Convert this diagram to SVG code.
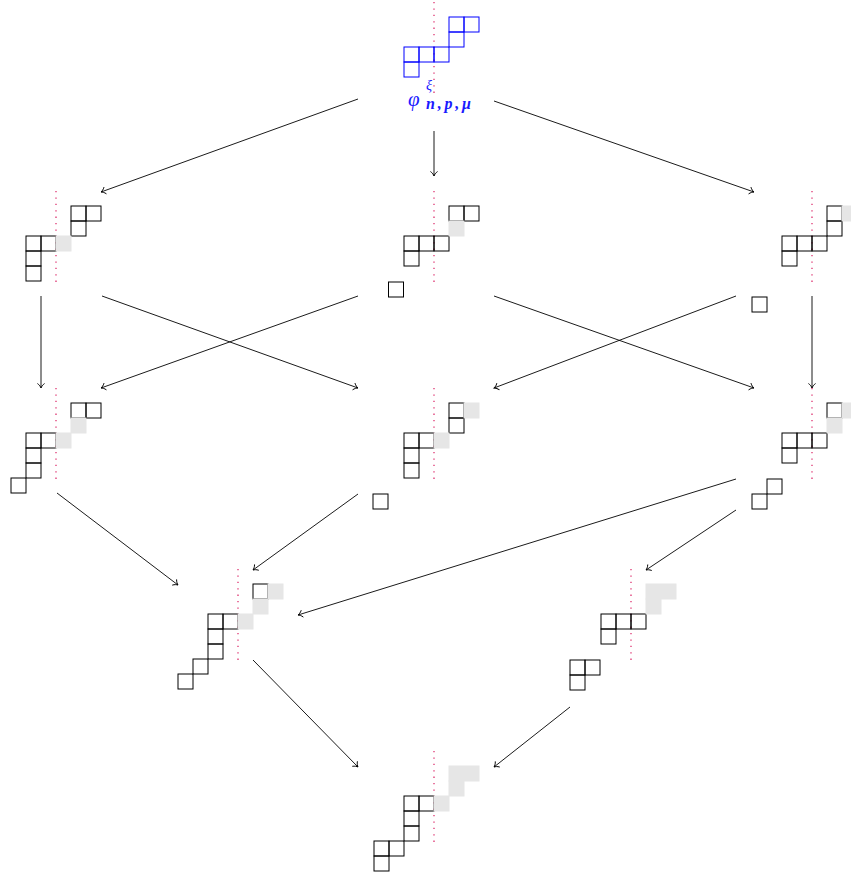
<svg xmlns="http://www.w3.org/2000/svg" width="851" height="872" viewBox="0 0 851 872">
<defs>
<style>
.c{fill:none;stroke:#000;stroke-width:1}
.b{fill:none;stroke:#0000ff;stroke-width:1}
.g{fill:#e6e6e6;stroke:none}
.d{stroke:#e0407a;stroke-width:1.4;stroke-dasharray:1.3 5.1;fill:none}
.a{stroke:#000;stroke-width:0.9;fill:none;marker-end:url(#h)}
.lab{font-family:"Liberation Serif",serif;font-style:italic;fill:#1a1aff}
</style>
<marker id="h" markerUnits="userSpaceOnUse" markerWidth="12" markerHeight="12" viewBox="-6 -6 12 12" refX="0" refY="0" orient="auto">
<path d="M-4.5,-3.6 C-3.1,-1.5 -1.1,-0.4 0,0 C-1.1,0.4 -3.1,1.5 -4.5,3.6" fill="none" stroke="#000" stroke-width="0.9"/>
</marker>
</defs>

<g id="top">
<line class="d" x1="434" y1="2" x2="434" y2="94"/>
<rect class="b" x="449" y="17" width="15" height="15"/>
<rect class="b" x="464" y="17" width="15" height="15"/>
<rect class="b" x="449" y="32" width="15" height="15"/>
<rect class="b" x="404" y="47" width="15" height="15"/>
<rect class="b" x="419" y="47" width="15" height="15"/>
<rect class="b" x="434" y="47" width="15" height="15"/>
<rect class="b" x="404" y="62" width="15" height="15"/>
<text class="lab" x="408" y="106" font-size="21">φ</text>
<text class="lab" x="426" y="90" font-size="14">ξ</text>
<text class="lab" x="426" y="109" font-size="16" font-weight="bold" textLength="45" lengthAdjust="spacing">n,p,μ</text>
</g>

<g id="n2l">
<line class="d" x1="56" y1="191" x2="56" y2="282"/>
<rect class="c" x="71" y="206" width="15" height="15"/>
<rect class="c" x="86" y="206" width="15" height="15"/>
<rect class="c" x="71" y="221" width="15" height="15"/>
<rect class="c" x="26" y="236" width="15" height="15"/>
<rect class="c" x="41" y="236" width="15" height="15"/>
<rect class="c" x="26" y="251" width="15" height="15"/>
<rect class="c" x="26" y="266" width="15" height="15"/>
<rect class="g" x="55.5" y="235.5" width="16" height="16"/>
</g>

<g id="n2m">
<line class="d" x1="434" y1="191" x2="434" y2="282"/>
<rect class="c" x="449" y="206" width="15" height="15"/>
<rect class="c" x="464" y="206" width="15" height="15"/>
<rect class="c" x="404" y="236" width="15" height="15"/>
<rect class="c" x="419" y="236" width="15" height="15"/>
<rect class="c" x="434" y="236" width="15" height="15"/>
<rect class="c" x="404" y="251" width="15" height="15"/>
<rect class="g" x="448.5" y="220.5" width="16" height="16"/>
<rect class="c" x="388.5" y="282" width="15" height="15"/>
</g>

<g id="n2r">
<line class="d" x1="812" y1="191" x2="812" y2="282"/>
<rect class="c" x="827" y="206" width="15" height="15"/>
<rect class="c" x="827" y="221" width="15" height="15"/>
<rect class="c" x="782" y="236" width="15" height="15"/>
<rect class="c" x="797" y="236" width="15" height="15"/>
<rect class="c" x="812" y="236" width="15" height="15"/>
<rect class="c" x="782" y="251" width="15" height="15"/>
<rect class="g" x="841.5" y="205.5" width="16" height="16"/>
<rect class="c" x="752" y="297" width="15" height="15"/>
</g>

<g id="n3l">
<line class="d" x1="56" y1="388" x2="56" y2="479"/>
<rect class="c" x="71" y="403" width="15" height="15"/>
<rect class="c" x="86" y="403" width="15" height="15"/>
<rect class="c" x="26" y="433" width="15" height="15"/>
<rect class="c" x="41" y="433" width="15" height="15"/>
<rect class="c" x="26" y="448" width="15" height="15"/>
<rect class="c" x="26" y="463" width="15" height="15"/>
<rect class="c" x="11" y="478" width="15" height="15"/>
<rect class="g" x="70.5" y="417.5" width="16" height="16"/>
<rect class="g" x="55.5" y="432.5" width="16" height="16"/>
</g>

<g id="n3m">
<line class="d" x1="434" y1="388" x2="434" y2="479"/>
<rect class="c" x="449" y="403" width="15" height="15"/>
<rect class="c" x="449" y="418" width="15" height="15"/>
<rect class="c" x="404" y="433" width="15" height="15"/>
<rect class="c" x="419" y="433" width="15" height="15"/>
<rect class="c" x="404" y="448" width="15" height="15"/>
<rect class="c" x="404" y="463" width="15" height="15"/>
<rect class="g" x="463.5" y="402.5" width="16" height="16"/>
<rect class="g" x="433.5" y="432.5" width="16" height="16"/>
<rect class="c" x="373" y="494" width="15" height="15"/>
</g>

<g id="n3r">
<line class="d" x1="812" y1="388" x2="812" y2="479"/>
<rect class="c" x="827" y="403" width="15" height="15"/>
<rect class="c" x="782" y="433" width="15" height="15"/>
<rect class="c" x="797" y="433" width="15" height="15"/>
<rect class="c" x="812" y="433" width="15" height="15"/>
<rect class="c" x="782" y="448" width="15" height="15"/>
<rect class="g" x="841.5" y="402.5" width="16" height="16"/>
<rect class="g" x="826.5" y="417.5" width="16" height="16"/>
<rect class="c" x="767" y="479" width="15" height="15"/>
<rect class="c" x="752" y="494" width="15" height="15"/>
</g>

<g id="n4l">
<line class="d" x1="238" y1="569" x2="238" y2="660"/>
<rect class="c" x="253" y="584" width="15" height="15"/>
<rect class="c" x="208" y="614" width="15" height="15"/>
<rect class="c" x="223" y="614" width="15" height="15"/>
<rect class="c" x="208" y="629" width="15" height="15"/>
<rect class="c" x="208" y="644" width="15" height="15"/>
<rect class="c" x="193" y="659" width="15" height="15"/>
<rect class="c" x="178" y="674" width="15" height="15"/>
<rect class="g" x="267.5" y="583.5" width="16" height="16"/>
<rect class="g" x="252.5" y="598.5" width="16" height="16"/>
<rect class="g" x="237.5" y="613.5" width="16" height="16"/>
</g>

<g id="n4r">
<line class="d" x1="631" y1="569" x2="631" y2="660"/>
<rect class="c" x="601" y="614" width="15" height="15"/>
<rect class="c" x="616" y="614" width="15" height="15"/>
<rect class="c" x="631" y="614" width="15" height="15"/>
<rect class="c" x="601" y="629" width="15" height="15"/>
<rect class="g" x="645.5" y="583.5" width="31" height="16"/>
<rect class="g" x="645.5" y="598.5" width="16" height="16"/>
<rect class="c" x="570" y="660" width="15" height="15"/>
<rect class="c" x="585" y="660" width="15" height="15"/>
<rect class="c" x="570" y="675" width="15" height="15"/>
</g>

<g id="n5">
<line class="d" x1="434" y1="751" x2="434" y2="842"/>
<rect class="c" x="404" y="796" width="15" height="15"/>
<rect class="c" x="419" y="796" width="15" height="15"/>
<rect class="c" x="404" y="811" width="15" height="15"/>
<rect class="c" x="404" y="826" width="15" height="15"/>
<rect class="c" x="374" y="841" width="15" height="15"/>
<rect class="c" x="389" y="841" width="15" height="15"/>
<rect class="c" x="374" y="856" width="15" height="15"/>
<rect class="g" x="448.5" y="765.5" width="31" height="16"/>
<rect class="g" x="448.5" y="780.5" width="16" height="16"/>
<rect class="g" x="433.5" y="795.5" width="16" height="16"/>
</g>

<g id="connectors">
<line class="a" x1="358" y1="99" x2="101" y2="192"/>
<line class="a" x1="434" y1="131" x2="434" y2="176"/>
<line class="a" x1="494" y1="101" x2="754" y2="192"/>
<line class="a" x1="41" y1="296" x2="41" y2="388"/>
<line class="a" x1="102" y1="296" x2="358" y2="388"/>
<line class="a" x1="358" y1="296" x2="101" y2="388"/>
<line class="a" x1="494" y1="296" x2="754" y2="388"/>
<line class="a" x1="736" y1="296" x2="494" y2="388"/>
<line class="a" x1="812" y1="296" x2="812" y2="388"/>
<line class="a" x1="57" y1="493" x2="178" y2="585"/>
<line class="a" x1="358" y1="494" x2="253" y2="570"/>
<line class="a" x1="736" y1="479" x2="298" y2="615"/>
<line class="a" x1="736" y1="510" x2="646" y2="570"/>
<line class="a" x1="253" y1="660" x2="358" y2="767"/>
<line class="a" x1="570" y1="707" x2="494" y2="767"/>
</g>
</svg>
